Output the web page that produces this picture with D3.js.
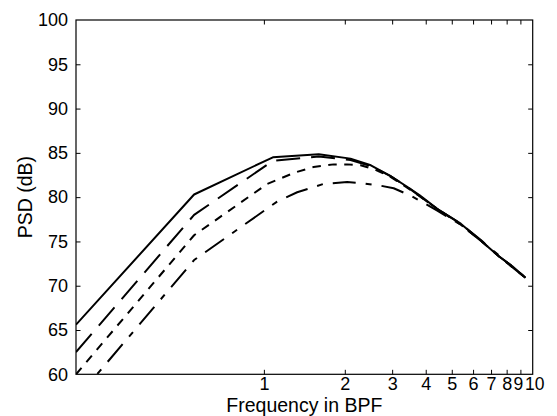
<!DOCTYPE html>
<html><head><meta charset="utf-8">
<script src="https://cdn.jsdelivr.net/npm/d3@7"></script>
<style>
body{margin:0;background:#fff;}
svg{display:block;}
text{font-family:"Liberation Sans",Arial,Helvetica,sans-serif;fill:#000;}
</style></head>
<body>
<svg id="chart" width="557" height="416"></svg>
<script>
// ---- data ----
const xTicks = [1,2,3,4,5,6,7,8,9,10];
const yTicks = [60,65,70,75,80,85,90,95,100];
const xLabel = "Frequency in BPF";
const yLabel = "PSD (dB)";

const freqSolid = [0.2, 0.55, 1.08, 1.6, 2.1, 2.5, 2.95, 3.4, 3.8, 4.5, 5.4, 6.4, 7.5, 8.4, 9.4];
const psdSolid  = [65.6, 80.3, 84.5, 84.85, 84.35, 83.6, 82.4, 81.2, 80.2, 78.5, 77.0, 75.1, 73.3, 72.2, 70.9];

const freqLongDash = [0.2, 0.55, 1.08, 1.6, 2.1, 2.5, 2.95, 3.4, 3.8, 4.5, 5.4, 6.4, 7.5, 8.4, 9.4];
const psdLongDash  = [62.5, 78.0, 84.1, 84.6, 84.2, 83.5, 82.4, 81.2, 80.1, 78.5, 77.0, 75.2, 73.3, 72.2, 70.9];

const freqShortDash = [0.2, 0.55, 1.03, 1.31, 1.53, 1.82, 2.04, 2.29, 2.6, 2.95, 3.4, 3.8, 4.5, 5.4, 6.4, 7.5, 8.4, 9.4];
const psdShortDash  = [60.0, 75.7, 81.5, 82.8, 83.4, 83.7, 83.7, 83.6, 83.1, 82.3, 81.1, 80.1, 78.5, 76.9, 75.1, 73.3, 72.1, 70.9];

const freqDashDot = [0.2, 0.55, 1.12, 1.33, 1.67, 2.04, 2.29, 2.71, 3.04, 3.5, 3.8, 4.4, 5.4, 6.4, 7.5, 8.4, 9.4];
const psdDashDot  = [57.2, 72.9, 79.5, 80.55, 81.5, 81.7, 81.6, 81.3, 81.0, 80.2, 79.6, 78.5, 76.9, 75.1, 73.4, 72.1, 70.9];

// ---- layout ----
const W = 557, H = 416;
const M = {left:76, right:24.3, top:20, bottom:41.7};
const x0 = M.left, x1 = W - M.right, y0 = H - M.bottom, y1 = M.top;

const svg = d3.select("#chart");
const x = d3.scaleLog().domain([0.2, 10]).range([x0, x1]);
const y = d3.scaleLinear().domain([60, 100]).range([y0, y1]);

svg.append("defs").append("clipPath").attr("id","clip")
  .append("rect").attr("x",x0).attr("y",y1).attr("width",x1-x0).attr("height",y0-y1);

const series = [
  {f:freqSolid, v:psdSolid, dash:null},
  {f:freqLongDash, v:psdLongDash, dash:"24,11"},
  {f:freqShortDash, v:psdShortDash, dash:"8.5,7.5"},
  {f:freqDashDot, v:psdDashDot, dash:"23,10,6,10"}
];
const line = d3.line().x(d=>x(d[0])).y(d=>y(d[1]));
const g = svg.append("g").attr("clip-path","url(#clip)");
series.forEach(s=>{
  g.append("path")
    .datum(s.f.map((f,i)=>[f, s.v[i]]))
    .attr("d", line)
    .attr("fill","none")
    .attr("stroke","#000")
    .attr("stroke-width",2)
    .attr("stroke-linejoin","round")
    .attr("stroke-dasharray", s.dash);
});

const tk = 4.5;
const fs = "18px";
// bottom axis
const xb = svg.append("g").attr("transform",`translate(0,${y0})`)
  .call(d3.axisBottom(x).tickValues(xTicks).tickFormat(d3.format("d")).tickSizeInner(-tk).tickSizeOuter(0).tickPadding(3));
// top axis
const xt = svg.append("g").attr("transform",`translate(0,${y1})`)
  .call(d3.axisTop(x).tickValues(xTicks).tickFormat("").tickSizeInner(-tk).tickSizeOuter(0));
// left axis
const yl = svg.append("g").attr("transform",`translate(${x0},0)`)
  .call(d3.axisLeft(y).tickValues(yTicks).tickFormat(d3.format("d")).tickSizeInner(-tk).tickSizeOuter(0).tickPadding(8));
// right axis
const yr = svg.append("g").attr("transform",`translate(${x1},0)`)
  .call(d3.axisRight(y).tickValues(yTicks).tickFormat("").tickSizeInner(-tk).tickSizeOuter(0));

[xb,xt,yl,yr].forEach(a=>{
  a.selectAll(".domain").remove();
  a.selectAll(".tick line").attr("stroke","#000").attr("stroke-width",1);
  a.selectAll("text").style("font-size",fs).attr("fill","#000");
});
// keep the crowded "9" and "10" labels touching but not overlapping
xb.selectAll(".tick").filter(d=>d===9).select("text").attr("dx",-2.5).style("font-size","17.5px");
xb.selectAll(".tick").filter(d=>d===10).select("text").attr("dx",1.5).style("font-size","17.5px");
xb.selectAll(".tick").filter(d=>d===10).select("line").remove();
xt.selectAll(".tick").filter(d=>d===10).select("line").remove();
yl.selectAll(".tick").filter(d=>d===60||d===100).select("line").remove();
yr.selectAll(".tick").filter(d=>d===60||d===100).select("line").remove();

// box
svg.append("rect").attr("x",x0).attr("y",y1).attr("width",x1-x0).attr("height",y0-y1)
  .attr("fill","none").attr("stroke","#000").attr("stroke-width",1.2);

// labels
svg.append("text").attr("x",(x0+x1)/2).attr("y",412).attr("text-anchor","middle")
  .style("font-size","19.5px").text(xLabel);
svg.append("text").attr("transform",`translate(31.5,${(y0+y1)/2}) rotate(-90)`)
  .attr("text-anchor","middle").style("font-size","19.5px").text(yLabel);
</script>
</body></html>
